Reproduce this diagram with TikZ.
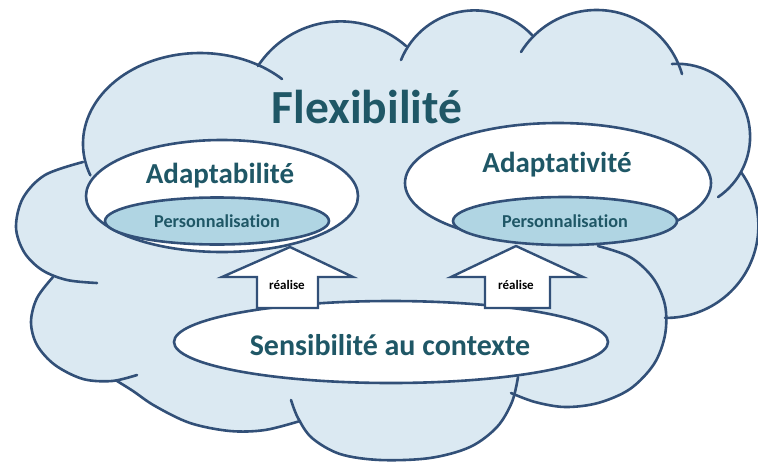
\documentclass[tikz,border=0pt]{standalone}
\usepackage{fontspec}
\setmainfont[Ligatures=NoCommon]{Carlito}
\usetikzlibrary{shapes.geometric}
\definecolor{cloudc}{RGB}{219,233,242}
\definecolor{linec}{RGB}{50,80,120}
\definecolor{persc}{RGB}{176,213,227}
\definecolor{textc}{RGB}{31,87,102}
\tikzset{
  lobe/.style={draw=linec, line width=2.6pt, line cap=round},
  oval/.style={ellipse, draw=linec, line width=2.6pt, fill=white, inner sep=0pt},
  persoval/.style={ellipse, draw=linec, line width=2.6pt, fill=persc, inner sep=0pt},
  blockarrow/.style={draw=linec, line width=2.4pt, fill=white, line join=miter},
  txt/.style={text=textc, font=\bfseries, inner sep=0pt, anchor=base},
  smoothp/.style={smooth, tension=0.55}
}
\begin{document}
\begin{tikzpicture}[x=1pt, y=-1pt]
\useasboundingbox (0,0) rectangle (758,461);
% cloud fill
\fill[cloudc]
  ([shift={(159.6:117 and 90.7)}]200,143.7) arc[start angle=159.6, end angle=314.5, x radius=117, y radius=90.7]
  -- ([shift={(213.3:99)}]340.7,120.4) arc[start angle=213.3, end angle=311.3, radius=99]
  -- ([shift={(202:79.4)}]474.6,89.8) arc[start angle=202, end angle=316.3, radius=79.4]
  -- ([shift={(211.9:89)}]596.6,99) arc[start angle=211.9, end angle=343.7, radius=89]
  -- ([shift={(265.9:72.9)}]677.2,136.7) arc[start angle=265.9, end angle=415.9, radius=72.9]
  -- ([shift={(-35.8:92)}]666.4,225.9) arc[start angle=-35.8, end angle=90.9, radius=92]
  -- plot[smoothp] coordinates {(598,246) (630,257) (653,278) (665,305) (665,335) (654,364) (630,389) (598,403) (565,407) (535,402) (511,393)}
  -- plot[smoothp] coordinates {(518,377) (512,402) (497,427) (470,447) (430,458) (380,460) (340,454) (312,438) (298,418) (291,400)}
  -- plot[smoothp] coordinates {(300,421) (265,430) (230,431) (190,423) (155,406) (133,391) (117,381)}
  -- plot[smoothp] coordinates {(137,375) (112,381) (83,379) (55,365) (37,345) (31,322) (37,298) (53,277)}
  -- plot[smoothp] coordinates {(97,283) (67,280) (42,270) (24,252) (16,227) (23,198) (45,175) (83,162)}
  -- cycle;
% cloud outline lobes
\draw[lobe] ([shift={(159.6:117 and 90.7)}]200,143.7) arc[start angle=159.6, end angle=314.5, x radius=117, y radius=90.7];
\draw[lobe] ([shift={(213.3:99)}]340.7,120.4) arc[start angle=213.3, end angle=311.3, radius=99];
\draw[lobe] ([shift={(202:79.4)}]474.6,89.8) arc[start angle=202, end angle=316.3, radius=79.4];
\draw[lobe] ([shift={(211.9:89)}]596.6,99) arc[start angle=211.9, end angle=343.7, radius=89];
\draw[lobe] ([shift={(265.9:72.9)}]677.2,136.7) arc[start angle=265.9, end angle=415.9, radius=72.9];
\draw[lobe] ([shift={(-35.8:92)}]666.4,225.9) arc[start angle=-35.8, end angle=90.9, radius=92];
\draw[lobe] plot[smoothp] coordinates {(598,246) (630,257) (653,278) (665,305) (665,335) (654,364) (630,389) (598,403) (565,407) (535,402) (511,393)};
\draw[lobe] plot[smoothp] coordinates {(518,377) (512,402) (497,427) (470,447) (430,458) (380,460) (340,454) (312,438) (298,418) (291,400)};
\draw[lobe] plot[smoothp] coordinates {(300,421) (265,430) (230,431) (190,423) (155,406) (133,391) (117,381)};
\draw[lobe] plot[smoothp] coordinates {(137,375) (112,381) (83,379) (55,365) (37,345) (31,322) (37,298) (53,277)};
\draw[lobe] plot[smoothp] coordinates {(97,283) (67,280) (42,270) (24,252) (16,227) (23,198) (45,175) (83,162)};
% ovals
\node[oval, minimum width=272pt, minimum height=112pt] (adapb) at (222,196) {};
\node[persoval, minimum width=224pt, minimum height=47pt] (pers1) at (217,221) {};
\node[oval, minimum width=306pt, minimum height=120pt] (adapt) at (558,183) {};
\node[persoval, minimum width=224pt, minimum height=48pt] (pers2) at (565,221) {};
\node[oval, minimum width=434pt, minimum height=82pt] (sens) at (391,342) {};
% block arrows
\draw[blockarrow] (290,247) -- (353,277) -- (318,277) -- (318,308) -- (257,308) -- (257,277) -- (222,277) -- cycle;
\draw[blockarrow] (516,246) -- (583,277) -- (550,277) -- (550,308) -- (485,308) -- (485,277) -- (451,277) -- cycle;
% texts
\node[txt, font=\bfseries\fontsize{47.5}{50}\selectfont] (flex) at (367,123) {Flexibilité};
\node[txt, font=\bfseries\fontsize{29}{32}\selectfont] (tadapb) at (220,183) {Adaptabilité};
\node[txt, font=\bfseries\fontsize{29}{32}\selectfont] (tadapt) at (557,172) {Adaptativité};
\node[txt, font=\bfseries\fontsize{18.2}{20}\selectfont] (tpers1) at (217,227) {Personnalisation};
\node[txt, font=\bfseries\fontsize{18.2}{20}\selectfont] (tpers2) at (565,227) {Personnalisation};
\node[txt, font=\bfseries\fontsize{30}{33}\selectfont] (tsens) at (390,355) {Sensibilité au contexte};
\node[font=\bfseries\fontsize{13}{15}\selectfont, text=black, inner sep=0pt] (real1) at (287,285) {réalise};
\node[font=\bfseries\fontsize{13}{15}\selectfont, text=black, inner sep=0pt] (real2) at (516,285) {réalise};
\end{tikzpicture}
\end{document}
